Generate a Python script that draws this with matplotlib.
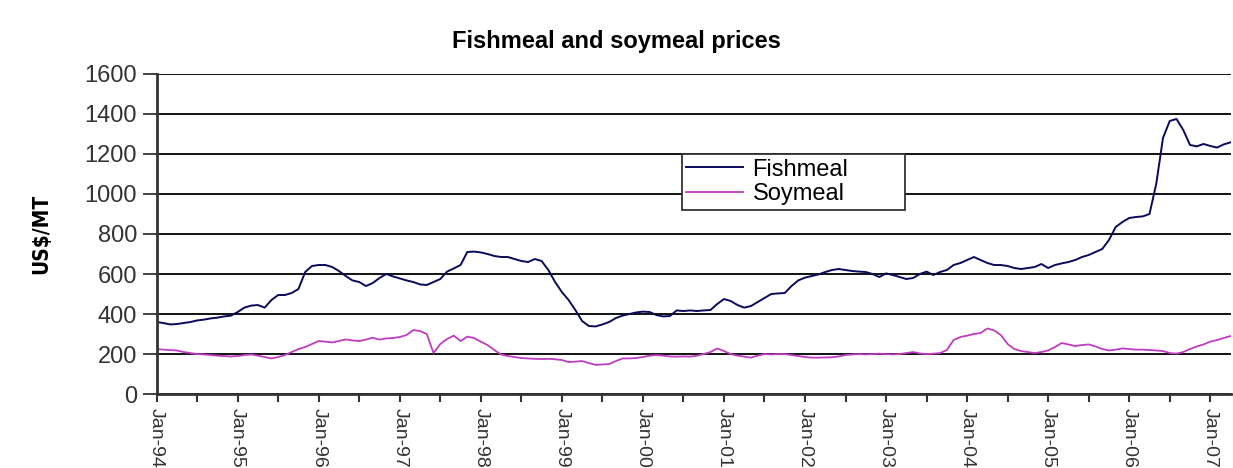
import matplotlib
matplotlib.use("Agg")
import matplotlib.pyplot as plt
from matplotlib.ticker import MultipleLocator, FixedLocator

# monthly prices, Jan-94 .. Apr-07 (US$ per metric tonne)
fishmeal = [
    360, 355, 348, 350, 355, 360, 368, 372, 378, 382, 388, 392,        # 1994
    410, 432, 442, 445, 432, 470, 495, 495, 505, 525, 610, 640,        # 1995
    645, 645, 635, 615, 590, 568, 560, 540, 555, 580, 600, 588,        # 1996
    578, 568, 560, 548, 545, 560, 575, 612, 628, 645, 710, 712,        # 1997
    708, 700, 690, 685, 685, 675, 665, 660, 675, 665, 620, 560,        # 1998
    510, 470, 420, 365, 340, 338, 348, 360, 380, 392, 400, 408,        # 1999
    412, 410, 395, 388, 390, 418, 415, 418, 415, 418, 420, 450,        # 2000
    475, 465, 445, 432, 440, 460, 480, 500, 503, 505, 540, 568,        # 2001
    582, 590, 598, 610, 620, 625, 620, 615, 612, 610, 600, 585,        # 2002
    603, 595, 585, 575, 580, 600, 612, 595, 610, 620, 645, 655,        # 2003
    670, 685, 670, 655, 645, 645, 640, 630, 625, 630, 635, 650,        # 2004
    630, 645, 653, 660, 670, 685, 695, 710, 725, 770, 835, 860,        # 2005
    880, 885, 888, 900, 1050, 1280, 1365, 1375, 1320, 1245, 1238, 1250,  # 2006
    1240, 1232, 1248, 1258,                                           # 2007
]
soymeal = [
    225, 222, 220, 218, 210, 205, 200, 198, 195, 192, 190, 188,
    190, 195, 198, 192, 185, 178, 185, 195, 210, 225, 235, 250,
    265, 262, 258, 265, 273, 268, 265, 272, 282, 272, 278, 280,
    285, 295, 320, 315, 300, 205, 250, 275, 292, 265, 287, 280,
    262, 245, 220, 198, 190, 185, 180, 178, 176, 175, 176, 174,
    170, 160, 162, 165, 155, 146, 148, 150, 165, 178, 178, 180,
    185, 192, 195, 192, 188, 187, 188, 187, 192, 200, 210, 228,
    215, 200, 192, 187, 182, 192, 200, 198, 200, 200, 195, 190,
    185, 182, 182, 183, 184, 188, 195, 198, 200, 198, 200, 202,
    200, 198, 200, 205, 210, 203, 200, 202, 205, 220, 270, 285,
    292, 300, 305, 328, 318, 295, 250, 225, 215, 210, 205, 210,
    218, 235, 255, 248, 240, 245, 248, 238, 225, 218, 222, 228,
    225, 222, 222, 220, 218, 215, 205, 202, 210, 225, 238, 248,
    262, 270, 280, 290,
]
year_labels = ["Jan-94", "Jan-95", "Jan-96", "Jan-97", "Jan-98", "Jan-99",
               "Jan-00", "Jan-01", "Jan-02", "Jan-03", "Jan-04", "Jan-05",
               "Jan-06", "Jan-07"]

months = list(range(len(fishmeal)))

plt.rcParams['font.family'] = ['Liberation Sans', 'DejaVu Sans']

fig = plt.figure(figsize=(12.33, 4.68), dpi=100)
ax = fig.add_axes([0.127, 0.158, 0.871, 0.684])

ax.plot(months, fishmeal, color='#0a0a5a', lw=1.4, label='Fishmeal')
ax.plot(months, soymeal, color='#c03cc0', lw=1.3, label='Soymeal')

ax.set_xlim(0, len(fishmeal) - 1)
ax.set_ylim(0, 1600)
ax.yaxis.set_major_locator(MultipleLocator(200))
ax.grid(axis='y', color='black', lw=1.3)
ax.set_axisbelow(True)

ax.xaxis.set_major_locator(FixedLocator([12 * k for k in range(len(year_labels))]))
ax.xaxis.set_minor_locator(FixedLocator([12 * k + 6 for k in range(len(year_labels))]))
ax.set_xticklabels(year_labels, rotation=-90, fontsize=14, color='#333333')
ax.tick_params(axis='x', which='both', length=6, width=1.5, color='#333333', pad=4)
ax.tick_params(axis='y', length=10, width=1.3, labelsize=17, color='#333333',
               labelcolor='#333333', pad=4)

for side in ('top', 'right'):
    ax.spines[side].set_visible(False)
for side in ('left', 'bottom'):
    ax.spines[side].set_linewidth(2)
    ax.spines[side].set_color('#333333')

ax.set_ylabel('US$/MT', fontsize=15, fontweight='bold', fontstretch='condensed',
              family=['Liberation Sans Narrow', 'DejaVu Sans'], labelpad=24)

fig.suptitle('Fishmeal and soymeal prices', x=0.5, y=0.935, fontsize=17,
             fontweight='bold')

# legend box stretched to a fixed width
leg = ax.legend(loc='upper left', bbox_to_anchor=(0.489, 0.75, 0.208, 0.0),
                mode='expand', borderaxespad=0, fontsize=17, frameon=True,
                fancybox=False, edgecolor='#333333', handlelength=2.4,
                handletextpad=0.4, borderpad=0.2, labelspacing=0.1,
                framealpha=1)
leg.get_frame().set_linewidth(1.3)

fig.savefig('out.png', dpi=100)
